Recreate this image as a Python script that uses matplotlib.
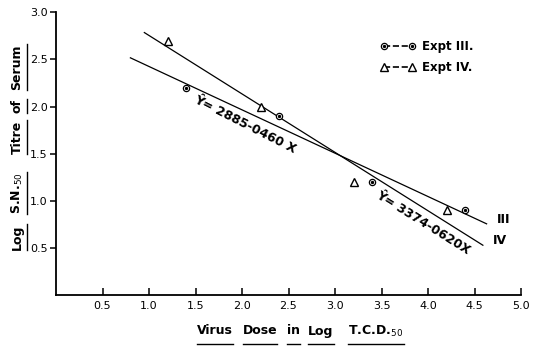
import numpy as np
import matplotlib
matplotlib.use("Agg")
import matplotlib.pyplot as plt
from matplotlib.lines import Line2D
from matplotlib.legend_handler import HandlerTuple

# Expt III (circles) and Expt IV (triangles)
expt3_x = [1.4, 2.4, 3.4, 4.4]
expt3_y = [2.2, 1.9, 1.2, 0.9]
expt4_x = [1.2, 2.2, 3.2, 4.2]
expt4_y = [2.7, 2.0, 1.2, 0.9]

# regression lines  Y = a - b X, drawn over these X ranges
line3_coef = (2.885, 0.460)
line3_range = (0.8, 4.63)
line4_coef = (3.374, 0.620)
line4_range = (0.95, 4.59)

xticks = [0.5, 1.0, 1.5, 2.0, 2.5, 3.0, 3.5, 4.0, 4.5, 5.0]
yticks = [0.5, 1.0, 1.5, 2.0, 2.5, 3.0]

W, H = 533, 346
fig = plt.figure(figsize=(W / 100, H / 100), dpi=100)
ax = fig.add_axes([56 / W, 1 - 295 / H, (521 - 56) / W, (295 - 12.3) / H])

ax.set_xlim(0, 5.0)
ax.set_ylim(0, 3.0)
for s in ["top", "right"]:
    ax.spines[s].set_visible(False)
for s in ["left", "bottom"]:
    ax.spines[s].set_linewidth(1.3)

ax.set_xticks(xticks)
ax.set_xticklabels([f"{v:.1f}" for v in xticks], fontsize=8)
ax.set_yticks(yticks)
ax.set_yticklabels([f"{v:.1f}" for v in yticks], fontsize=8)
ax.tick_params(axis="x", direction="in", length=5, width=1.1, pad=4)
ax.tick_params(axis="y", direction="out", length=4, width=1.1, pad=2)

# fitted lines
for (a, b), (x0, x1) in [(line3_coef, line3_range), (line4_coef, line4_range)]:
    xs = np.array([x0, x1])
    ax.plot(xs, a - b * xs, color="black", lw=0.9)

# points
ax.plot(expt3_x, expt3_y, "o", ms=4.5, mfc="white", mec="black", mew=0.9, ls="none")
ax.plot(expt3_x, expt3_y, "o", ms=1.4, color="black", ls="none")
ax.plot(expt4_x, expt4_y, "^", ms=6, mfc="white", mec="black", mew=1.0, ls="none")

# legend
l3 = Line2D([], [], marker="o", ms=4.5, mfc="white", mec="black", mew=0.9, ls="--", lw=1.2, color="black")
l3d = Line2D([], [], marker="o", ms=1.4, color="black", ls="none")
l4 = Line2D([], [], marker="^", ms=6, mfc="white", mec="black", mew=1.0, ls="--", lw=1.2, color="black")
leg = ax.legend([(l3, l3d), l4], ["Expt III.", "Expt IV."], numpoints=2,
                handler_map={tuple: HandlerTuple(ndivide=1, pad=0)},
                loc="upper left", bbox_to_anchor=(0.675, 0.94), frameon=False,
                fontsize=8.5, handlelength=3.0, handletextpad=0.5, labelspacing=0.7)
for t in leg.get_texts():
    t.set_fontweight("bold")

# equations along the lines
ax.text(1.47, 2.05, "Ŷ= 2885-0460 X", rotation=-27, rotation_mode="anchor",
        ha="left", va="baseline", fontsize=9, fontweight="bold")
ax.text(3.43, 1.04, "Ŷ= 3374-0620X", rotation=-32, rotation_mode="anchor",
        ha="left", va="baseline", fontsize=9, fontweight="bold")
ax.text(4.74, 0.80, "III", ha="left", va="center", fontsize=9, fontweight="bold")
ax.text(4.70, 0.58, "IV", ha="left", va="center", fontsize=9, fontweight="bold")

# axis titles, word by word with underlines
def fx(px):
    return px / W

def fy(py):
    return 1 - py / H

xwords = [("Virus", 215), ("Dose", 260), ("in", 293), ("Log", 321), ("T.C.D.$_{50}$", 376)]
ywords = [("Log", 237), ("S.N.$_{50}$", 193), ("Titre", 137), ("of", 106), ("Serum", 67)]

xtexts = [fig.text(fx(cx), fy(331), w, ha="center", va="center", fontsize=9, fontweight="bold")
          for w, cx in xwords]
ytexts = [fig.text(fx(17), fy(cy), w, ha="center", va="center", rotation=90,
                   fontsize=9, fontweight="bold") for w, cy in ywords]

fig.canvas.draw()
r = fig.canvas.get_renderer()
for t in xtexts:
    bb = t.get_window_extent(r)
    fig.add_artist(Line2D([bb.x0 / W, bb.x1 / W], [fy(344)] * 2, color="black", lw=1.0))
for t in ytexts:
    bb = t.get_window_extent(r)
    fig.add_artist(Line2D([fx(27)] * 2, [bb.y0 / H, bb.y1 / H], color="black", lw=1.0))

fig.savefig("out.png", dpi=100)
